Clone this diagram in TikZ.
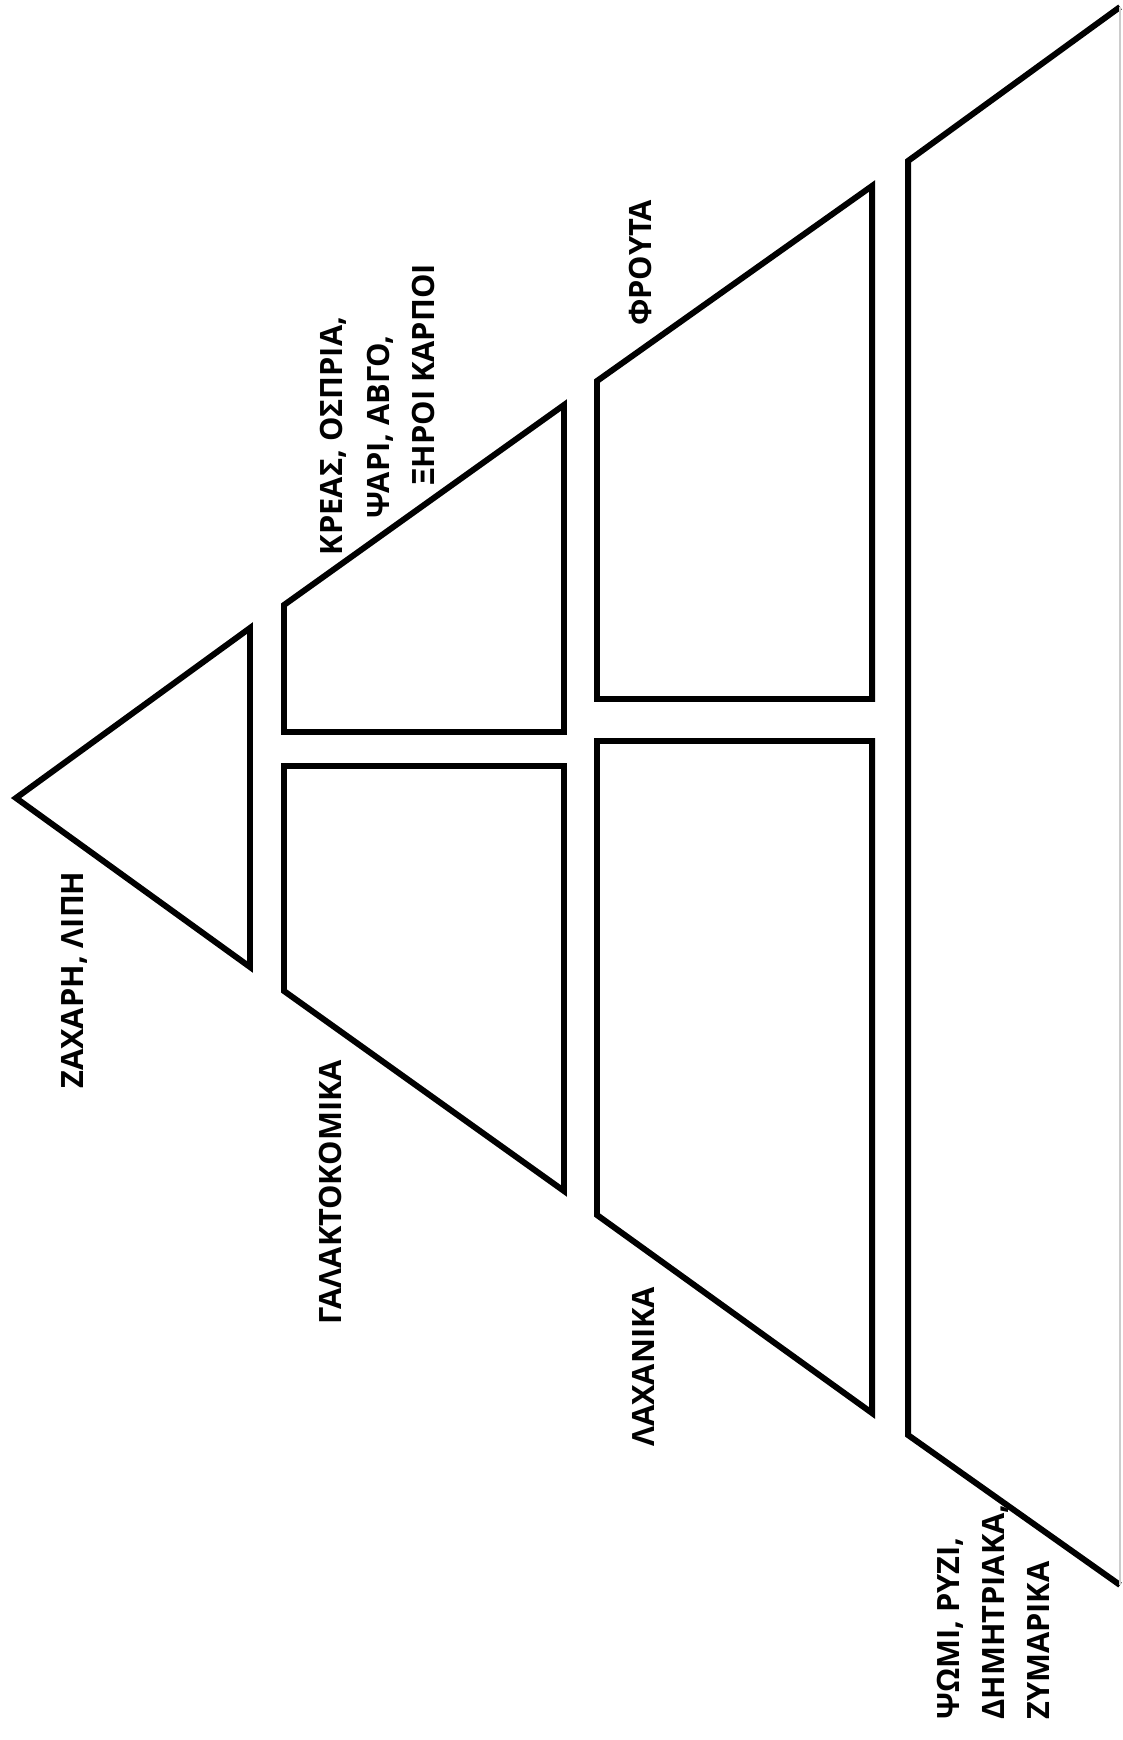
\documentclass[tikz,border=0pt]{standalone}
\usepackage{fontspec}
\setmainfont{Open Sans}
\begin{document}
\begin{tikzpicture}[x=0.02cm, y=-0.02cm,
        level/.style={draw, line width=3.4pt, line join=miter},
        food/.style={rotate=90, font=\fontsize{17.5}{25.6}\selectfont\bfseries, inner sep=0pt}]
    \useasboundingbox (0,0) rectangle (1122,1740);
    % pyramid levels, apex on the left
    \draw[level] (16,798) -- (250,628) -- (250,967) -- cycle;
    \draw[level] (284,605) -- (564,405) -- (564,732) -- (284,732) -- cycle;
    \draw[level] (284,766) -- (564,766) -- (564,1191) -- (284,991) -- cycle;
    \draw[level] (597,381) -- (872,186) -- (872,699) -- (597,699) -- cycle;
    \draw[level] (597,741) -- (872,741) -- (872,1413) -- (597,1215) -- cycle;
    \draw[level] (1120,7) -- (908,161) -- (908,1435) -- (1120,1585);
    \draw[gray!40, line width=0.6pt] (1120,7) -- (1120,1585);
    % labels
    \node[food] (sugar) at (74,980) {ΖΑΧΑΡΗ, ΛΙΠΗ};
    \node[food] (meat1) at (333,436) {ΚΡΕΑΣ, ΟΣΠΡΙΑ,};
    \node[food] (meat2) at (380,427) {ΨΑΡΙ, ΑΒΓΟ,};
    \node[food] (meat3) at (423,375) {ΞΗΡΟΙ ΚΑΡΠΟΙ};
    \node[food] (dairy) at (330,1192) {ΓΑΛΑΚΤΟΚΟΜΙΚΑ};
    \node[food] (fruit) at (640,263) {ΦΡΟΥΤΑ};
    \node[food] (veg) at (643,1367) {ΛΑΧΑΝΙΚΑ};
    \node[food, align=left] (grain) at (993,1612) {ΨΩΜΙ, ΡΥΖΙ,\\ΔΗΜΗΤΡΙΑΚΑ,\\ΖΥΜΑΡΙΚΑ};
\end{tikzpicture}
\end{document}
